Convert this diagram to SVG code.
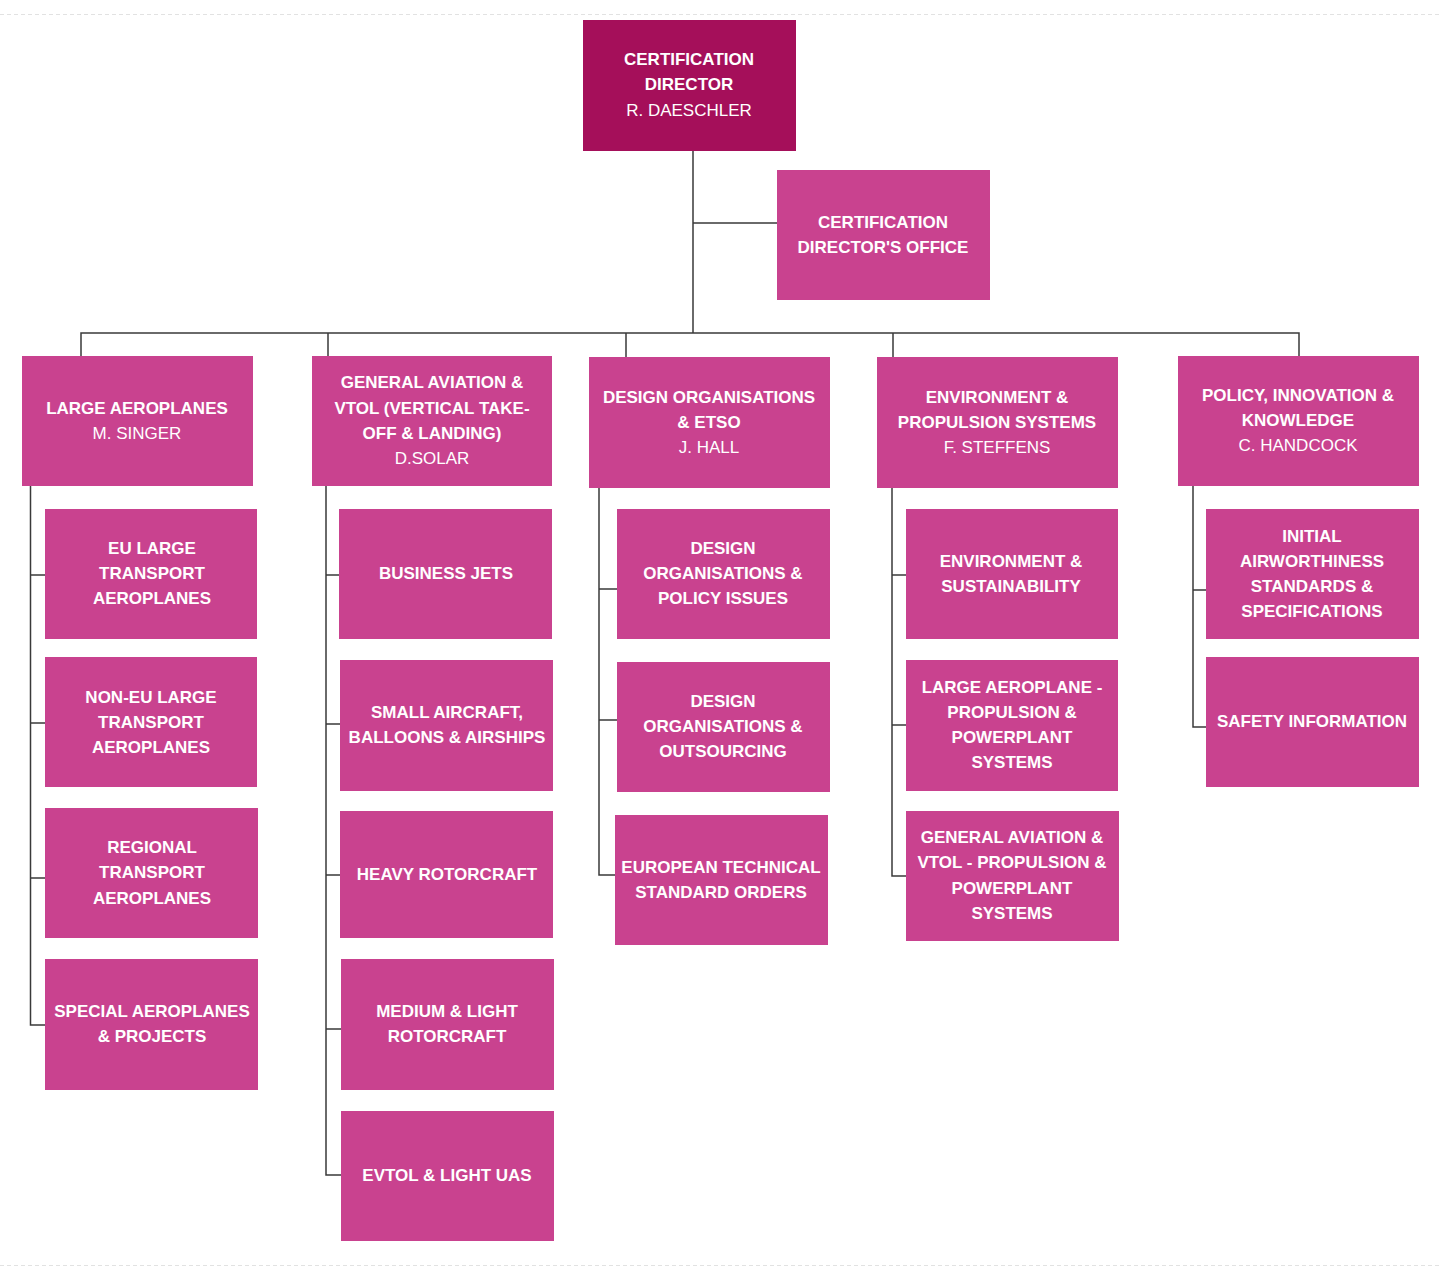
<svg xmlns="http://www.w3.org/2000/svg" width="1441" height="1267" viewBox="0 0 1441 1267">
<style>
.box{fill:#C9428F}
.dir{fill:#A50F5A}
text{font-family:"Liberation Sans",Arial,sans-serif;font-size:17px;fill:#FFFFFF;text-anchor:middle}
.b{font-weight:bold}
.conn{fill:none;stroke:#3a3a3a;stroke-width:1.5}
.page{stroke:#e2e2e2;stroke-width:1;stroke-dasharray:4 3}
</style>
<rect width="1441" height="1267" fill="#FFFFFF"/>
<line class="page" x1="0" y1="14.5" x2="1441" y2="14.5"/>
<line class="page" x1="0" y1="1265.5" x2="1441" y2="1265.5"/>
<g id="connectors">
<path class="conn" d="M693,151 V333 M693,223 H777 M81,356 V333 H1299 V356 M328,333 V356 M626,333 V357 M893,333 V357"/>
<path class="conn" d="M30.5,486 V1025 H45 M30.5,575 H45 M30.5,723 H45 M30.5,878 H45"/>
<path class="conn" d="M326,486 V1175 H341 M326,575 H339 M326,724 H340 M326,875 H340 M326,1029 H341"/>
<path class="conn" d="M599,488 V875 H615 M599,589 H617 M599,720 H617"/>
<path class="conn" d="M892,488 V876 H906 M892,575 H906 M892,725 H906"/>
<path class="conn" d="M1193,486 V727 H1206 M1193,590 H1206"/>
</g>
<g id="director"><rect class="dir" x="583" y="20" width="213" height="131"/>
<text class="b" x="689" y="65">CERTIFICATION</text><text class="b" x="689" y="90">DIRECTOR</text><text x="689" y="116">R. DAESCHLER</text></g>
<g id="office"><rect class="box" x="777" y="170" width="213" height="130"/>
<text class="b" x="883" y="228">CERTIFICATION</text><text class="b" x="883" y="253">DIRECTOR'S OFFICE</text></g>

<g id="large-aeroplanes"><rect class="box" x="22" y="356" width="231" height="130"/>
<text class="b" x="137" y="414">LARGE AEROPLANES</text><text x="137" y="439">M. SINGER</text></g>
<g id="general-aviation"><rect class="box" x="312" y="356" width="240" height="130"/>
<text class="b" x="432" y="388">GENERAL AVIATION &amp;</text><text class="b" x="432" y="414">VTOL (VERTICAL TAKE-</text><text class="b" x="432" y="439">OFF &amp; LANDING)</text><text x="432" y="464">D.SOLAR</text></g>
<g id="design-organisations"><rect class="box" x="589" y="357" width="241" height="131"/>
<text class="b" x="709" y="403">DESIGN ORGANISATIONS</text><text class="b" x="709" y="428">&amp; ETSO</text><text x="709" y="453">J. HALL</text></g>
<g id="environment-propulsion"><rect class="box" x="877" y="357" width="241" height="131"/>
<text class="b" x="997" y="403">ENVIRONMENT &amp;</text><text class="b" x="997" y="428">PROPULSION SYSTEMS</text><text x="997" y="453">F. STEFFENS</text></g>
<g id="policy-innovation"><rect class="box" x="1178" y="356" width="241" height="130"/>
<text class="b" x="1298" y="401">POLICY, INNOVATION &amp;</text><text class="b" x="1298" y="426">KNOWLEDGE</text><text x="1298" y="451">C. HANDCOCK</text></g>

<g id="eu-large"><rect class="box" x="45" y="509" width="212" height="130"/>
<text class="b" x="152" y="554">EU LARGE</text><text class="b" x="152" y="579">TRANSPORT</text><text class="b" x="152" y="604">AEROPLANES</text></g>
<g id="non-eu-large"><rect class="box" x="45" y="657" width="212" height="130"/>
<text class="b" x="151" y="703">NON-EU LARGE</text><text class="b" x="151" y="728">TRANSPORT</text><text class="b" x="151" y="753">AEROPLANES</text></g>
<g id="regional"><rect class="box" x="45" y="808" width="213" height="130"/>
<text class="b" x="152" y="853">REGIONAL</text><text class="b" x="152" y="878">TRANSPORT</text><text class="b" x="152" y="904">AEROPLANES</text></g>
<g id="special"><rect class="box" x="45" y="959" width="213" height="131"/>
<text class="b" x="152" y="1017">SPECIAL AEROPLANES</text><text class="b" x="152" y="1042">&amp; PROJECTS</text></g>

<g id="business-jets"><rect class="box" x="339" y="509" width="213" height="130"/>
<text class="b" x="446" y="579">BUSINESS JETS</text></g>
<g id="small-aircraft"><rect class="box" x="340" y="660" width="213" height="131"/>
<text class="b" x="447" y="718">SMALL AIRCRAFT,</text><text class="b" x="447" y="743">BALLOONS &amp; AIRSHIPS</text></g>
<g id="heavy-rotorcraft"><rect class="box" x="340" y="811" width="213" height="127"/>
<text class="b" x="447" y="880">HEAVY ROTORCRAFT</text></g>
<g id="medium-light-rotorcraft"><rect class="box" x="341" y="959" width="213" height="131"/>
<text class="b" x="447" y="1017">MEDIUM &amp; LIGHT</text><text class="b" x="447" y="1042">ROTORCRAFT</text></g>
<g id="evtol"><rect class="box" x="341" y="1111" width="213" height="130"/>
<text class="b" x="447" y="1181">EVTOL &amp; LIGHT UAS</text></g>

<g id="do-policy"><rect class="box" x="617" y="509" width="213" height="130"/>
<text class="b" x="723" y="554">DESIGN</text><text class="b" x="723" y="579">ORGANISATIONS &amp;</text><text class="b" x="723" y="604">POLICY ISSUES</text></g>
<g id="do-outsourcing"><rect class="box" x="617" y="662" width="213" height="130"/>
<text class="b" x="723" y="707">DESIGN</text><text class="b" x="723" y="732">ORGANISATIONS &amp;</text><text class="b" x="723" y="757">OUTSOURCING</text></g>
<g id="etso"><rect class="box" x="615" y="815" width="213" height="130"/>
<text class="b" x="721" y="873">EUROPEAN TECHNICAL</text><text class="b" x="721" y="898">STANDARD ORDERS</text></g>

<g id="env-sustainability"><rect class="box" x="906" y="509" width="212" height="130"/>
<text class="b" x="1011" y="567">ENVIRONMENT &amp;</text><text class="b" x="1011" y="592">SUSTAINABILITY</text></g>
<g id="large-propulsion"><rect class="box" x="906" y="660" width="212" height="131"/>
<text class="b" x="1012" y="693">LARGE AEROPLANE -</text><text class="b" x="1012" y="718">PROPULSION &amp;</text><text class="b" x="1012" y="743">POWERPLANT</text><text class="b" x="1012" y="768">SYSTEMS</text></g>
<g id="ga-propulsion"><rect class="box" x="906" y="811" width="213" height="130"/>
<text class="b" x="1012" y="843">GENERAL AVIATION &amp;</text><text class="b" x="1012" y="868">VTOL - PROPULSION &amp;</text><text class="b" x="1012" y="894">POWERPLANT</text><text class="b" x="1012" y="919">SYSTEMS</text></g>

<g id="initial-airworthiness"><rect class="box" x="1206" y="509" width="213" height="130"/>
<text class="b" x="1312" y="542">INITIAL</text><text class="b" x="1312" y="567">AIRWORTHINESS</text><text class="b" x="1312" y="592">STANDARDS &amp;</text><text class="b" x="1312" y="617">SPECIFICATIONS</text></g>
<g id="safety-information"><rect class="box" x="1206" y="657" width="213" height="130"/>
<text class="b" x="1312" y="727">SAFETY INFORMATION</text></g>
</svg>
